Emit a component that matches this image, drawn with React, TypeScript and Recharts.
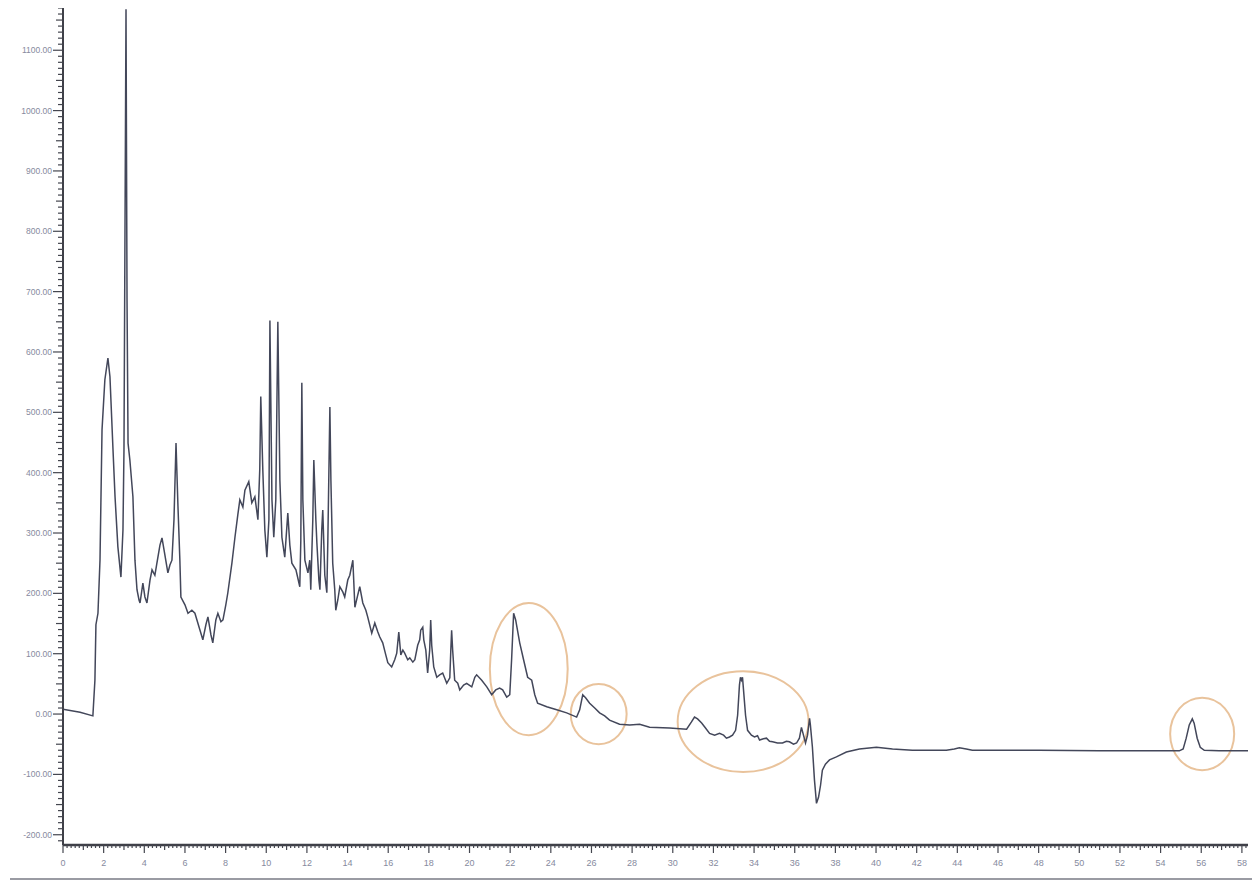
import React from 'react';
import { LineChart, Line, XAxis, YAxis, ReferenceArea } from 'recharts';

// Retention time (min) and detector response for the chromatogram trace
const retentionMin = [
  0.0, 0.84, 1.47, 1.57, 1.62, 1.72, 1.82, 1.92, 2.06, 2.21, 2.31, 2.46, 2.56, 2.7, 2.85, 2.95, 3.0, 3.1, 3.15, 3.2,
  3.29, 3.44, 3.54, 3.64, 3.74, 3.79, 3.93, 4.03, 4.13, 4.28, 4.38, 4.52, 4.62, 4.77, 4.87, 5.01, 5.16, 5.26, 5.36, 5.46,
  5.56, 5.65, 5.75, 5.8, 6.0, 6.15, 6.34, 6.49, 6.74, 6.88, 7.03, 7.13, 7.28, 7.37, 7.52, 7.62, 7.77, 7.87, 8.01, 8.11,
  8.31, 8.46, 8.6, 8.7, 8.85, 8.95, 9.14, 9.29, 9.44, 9.59, 9.68, 9.73, 9.83, 9.93, 10.03, 10.13, 10.18, 10.28, 10.37, 10.47,
  10.57, 10.67, 10.77, 10.91, 11.06, 11.16, 11.26, 11.46, 11.65, 11.7, 11.75, 11.8, 11.9, 12.05, 12.14, 12.19, 12.29, 12.34, 12.44, 12.49,
  12.59, 12.64, 12.73, 12.78, 12.88, 12.98, 13.03, 13.13, 13.18, 13.27, 13.37, 13.42, 13.52, 13.62, 13.77, 13.86, 14.01, 14.11, 14.26, 14.36,
  14.5, 14.6, 14.75, 14.9, 14.99, 15.19, 15.34, 15.49, 15.58, 15.73, 15.88, 15.98, 16.17, 16.32, 16.42, 16.52, 16.62, 16.72, 16.81, 16.96,
  17.06, 17.21, 17.31, 17.45, 17.55, 17.6, 17.7, 17.75, 17.85, 17.94, 18.04, 18.09, 18.14, 18.24, 18.39, 18.53, 18.68, 18.88, 19.03, 19.08,
  19.12, 19.17, 19.27, 19.42, 19.52, 19.71, 19.86, 20.11, 20.26, 20.35, 20.6, 20.85, 21.09, 21.29, 21.48, 21.63, 21.83, 21.98, 22.07, 22.17,
  22.27, 22.47, 22.66, 22.86, 23.06, 23.21, 23.35, 23.8, 24.29, 24.78, 25.27, 25.42, 25.57, 25.71, 25.91, 26.16, 26.4, 26.65, 26.89, 27.38,
  27.88, 28.37, 28.86, 29.84, 30.68, 30.92, 31.07, 31.22, 31.42, 31.61, 31.81, 32.06, 32.3, 32.5, 32.64, 32.79, 32.94, 33.09, 33.19, 33.28,
  33.33, 33.38, 33.43, 33.48, 33.58, 33.68, 33.87, 34.02, 34.17, 34.27, 34.46, 34.61, 34.76, 34.91, 35.15, 35.4, 35.59, 35.74, 35.94, 36.09,
  36.23, 36.33, 36.43, 36.53, 36.63, 36.73, 36.77, 36.87, 36.97, 37.07, 37.17, 37.27, 37.36, 37.51, 37.71, 38.05, 38.54, 39.18, 40.02, 40.81,
  41.79, 43.46, 43.85, 44.1, 44.44, 44.74, 48.03, 50.98, 54.92, 55.11, 55.26, 55.41, 55.56, 55.65, 55.8, 55.95, 56.15, 56.88, 58.3,
];

const signalMv = [
  8, 3, -3, 56, 148, 167, 255, 471, 554, 590, 559, 438, 360, 277, 227, 305, 438, 1168, 686, 449,
  421, 360, 255, 206, 189, 184, 217, 194, 184, 222, 239, 230, 250, 280, 292, 264, 234, 247, 255, 322,
  449, 350, 255, 194, 181, 167, 172, 167, 139, 123, 148, 161, 131, 118, 156, 167, 153, 156, 181, 201,
  250, 293, 330, 355, 343, 371, 385, 350, 360, 322, 405, 526, 405, 305, 260, 322, 652, 355, 293, 355,
  650, 388, 293, 260, 333, 280, 250, 239, 211, 288, 549, 355, 255, 234, 255, 206, 322, 421, 322, 284,
  222, 206, 305, 338, 230, 201, 288, 509, 388, 250, 206, 172, 189, 211, 202, 194, 222, 230, 255, 177,
  197, 211, 184, 172, 161, 134, 151, 136, 128, 118, 98, 85, 78, 90, 101, 136, 98, 106, 101, 90,
  93, 86, 90, 114, 123, 139, 144, 123, 106, 68, 106, 156, 114, 78, 61, 65, 68, 51, 60, 106,
  139, 106, 56, 51, 40, 48, 51, 45, 61, 65, 56, 45, 32, 40, 43, 40, 28, 32, 90, 167,
  156, 118, 90, 61, 56, 32, 18, 12, 7, 2, -5, 7, 32, 27, 18, 10, 2, -3, -10, -17,
  -18, -17, -22, -23, -25, -13, -5, -8, -15, -23, -32, -35, -32, -35, -40, -38, -35, -27, -2, 48,
  61, 56, 61, 40, -2, -27, -35, -38, -36, -43, -41, -40, -45, -46, -48, -48, -45, -46, -50, -48,
  -40, -22, -35, -48, -35, -7, -18, -55, -109, -148, -138, -118, -93, -83, -76, -71, -63, -58, -55, -58,
  -60, -60, -58, -56, -58, -60, -60, -61, -61, -58, -40, -18, -8, -15, -40, -55, -60, -61, -61,
];

const xLabelTicks = [0, 2, 4, 6, 8, 10, 12, 14, 16, 18, 20, 22, 24, 26, 28, 30, 32, 34, 36, 38, 40, 42, 44, 46, 48, 50, 52, 54, 56, 58];
const yLabelTicks = [-200, -100, 0, 100, 200, 300, 400, 500, 600, 700, 800, 900, 1000, 1100];

// circled peak groups, in minutes and signal units
const markT1 = [21.0, 24.98, 30.24, 54.47];
const markT2 = [24.83, 27.73, 36.68, 57.62];
const markTop = [184, 50, 71, 27];
const markBottom = [-35, -50, -96, -93];

const trace = retentionMin.map((t, i) => ({ t, v: signalMv[i] }));

// ruler-style minor ticks between the labelled ones
const ruler = (from: number, to: number, step: number) => {
  const out: number[] = [];
  for (let k = 0; from + k * step <= to + 1e-9; k++) out.push(Math.round((from + k * step) * 100) / 100);
  return out;
};
const xTicks = ruler(0, 58.2, 0.2);
const yTicks = ruler(-210, 1170, 10);

const labelColor = '#868a9e';
const rulerColor = '#44464f';

const YTick = ({ x, y, payload }: any) => {
  const v = payload.value;
  const major = yLabelTicks.includes(v);
  const len = major ? 10 : v % 50 === 0 ? 7 : 5;
  return (
    <g>
      <line x1={x - len} x2={x} y1={y} y2={y} stroke={rulerColor} strokeWidth={1.2} />
      {major && (
        <text x={x - len - 1} y={y} dy={3} textAnchor="end" fontSize={8.5} fill={labelColor} fontFamily="Liberation Sans, Arial, sans-serif">
          {v.toFixed(2)}
        </text>
      )}
    </g>
  );
};

const XTick = ({ x, y, payload }: any) => {
  const v = payload.value;
  const major = xLabelTicks.includes(v);
  const len = major ? 8 : Number.isInteger(v) ? 5 : 3;
  return (
    <g>
      <line x1={x} x2={x} y1={y} y2={y + len} stroke={rulerColor} strokeWidth={1.2} />
      {major && (
        <text x={x} y={y + 21} textAnchor="middle" fontSize={9} fill={labelColor} fontFamily="Liberation Sans, Arial, sans-serif">
          {v}
        </text>
      )}
    </g>
  );
};

const Ellipse = (p: any) => (
  <ellipse
    cx={p.x + p.width / 2}
    cy={p.y + p.height / 2}
    rx={Math.abs(p.width) / 2}
    ry={Math.abs(p.height) / 2}
    fill="none"
    stroke="#e9c39c"
    strokeWidth={2}
  />
);

export default function App() {
  return (
    <div style={{ position: 'relative', width: 1250, height: 880, background: '#fff' }}>
      <LineChart width={1250} height={872} data={trace} margin={{ top: 0, right: 10, left: 0, bottom: 0 }}>
        <XAxis
          dataKey="t"
          type="number"
          domain={[0, 58.3]}
          allowDataOverflow
          ticks={xTicks}
          interval={0}
          tickSize={0}
          tickMargin={0}
          tickLine={false}
          tick={<XTick />}
          height={35}
          axisLine={{ stroke: '#3f4048', strokeWidth: 2.5 }}
        />
        <YAxis
          type="number"
          domain={[-217, 1170]}
          allowDataOverflow
          ticks={yTicks}
          interval={0}
          tickSize={0}
          tickMargin={0}
          tickLine={false}
          tick={<YTick />}
          width={55}
          axisLine={{ stroke: '#3f4048', strokeWidth: 2 }}
        />
        {markT1.map((t1, i) => (
          <ReferenceArea
            key={i}
            x1={t1}
            x2={markT2[i]}
            y1={markBottom[i]}
            y2={markTop[i]}
            shape={<Ellipse />}
          />
        ))}
        <Line
          type="linear"
          dataKey="v"
          stroke="#43475a"
          strokeWidth={1.5}
          dot={false}
          isAnimationActive={false}
        />
      </LineChart>
      <div style={{ position: 'absolute', left: 2, top: 870, width: 1246, height: 2, background: '#9a9ba3' }} />
    </div>
  );
}
